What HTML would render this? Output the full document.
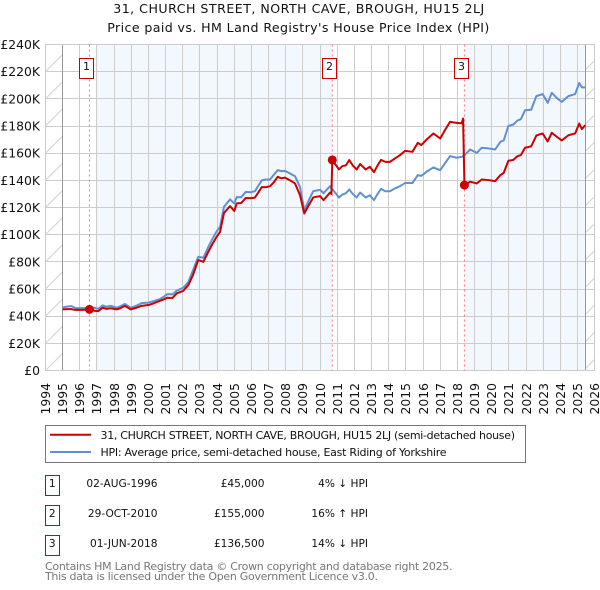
<!DOCTYPE html>
<html lang="en">
<head>
<meta charset="utf-8">
<title>31, CHURCH STREET, NORTH CAVE, BROUGH, HU15 2LJ</title>
<style>
html,body{margin:0;padding:0;background:#fff;width:600px;height:590px;overflow:hidden}
svg{display:block;font-family:"DejaVu Sans",sans-serif}
text{fill:#111}
</style>
</head>
<body>
<svg id="chart" xmlns="http://www.w3.org/2000/svg" width="600" height="590" viewBox="0 0 600 590">
  <defs>
    <pattern id="hatch-left" patternUnits="userSpaceOnUse" width="27.17" height="27.17" patternTransform="translate(8.45,0)">
      <line x1="0" y1="27.17" x2="27.17" y2="0" stroke="#cfcfcf" stroke-width="1"/>
    </pattern>
    <pattern id="hatch-right" patternUnits="userSpaceOnUse" width="27.17" height="27.17" patternTransform="translate(3.05,0)">
      <line x1="0" y1="27.17" x2="27.17" y2="0" stroke="#cfcfcf" stroke-width="1"/>
    </pattern>
  </defs>

  <text x="298.7" y="13" text-anchor="middle" font-size="12.6" textLength="371" lengthAdjust="spacing">31, CHURCH STREET, NORTH CAVE, BROUGH, HU15 2LJ</text>
  <text x="298.3" y="32" text-anchor="middle" font-size="12.6" textLength="382" lengthAdjust="spacing">Price paid vs. HM Land Registry's House Price Index (HPI)</text>

  <rect x="45.5" y="44.5" width="549" height="326" fill="#fff"/>
  <rect x="96.5" y="44.5" width="236" height="326" fill="#f3f7fe"/>
  <rect x="464.5" y="44.5" width="121" height="326" fill="#f3f7fe"/>

  <g id="grid"></g>
  <rect x="45.5" y="44.5" width="17" height="326" fill="url(#hatch-left)"/>
  <rect x="585.5" y="44.5" width="9" height="326" fill="url(#hatch-right)"/>
  <line x1="62.5" y1="44.5" x2="62.5" y2="370.5" stroke="#999" stroke-width="1"/>
  <line x1="585.5" y1="44.5" x2="585.5" y2="370.5" stroke="#999" stroke-width="1"/>
  <rect x="45.5" y="44.5" width="549" height="326" fill="none" stroke="#ccc" stroke-width="1"/>

  <g id="y-ticks"></g>
  <g id="x-ticks"></g>
  <g id="sale-lines"></g>
  <path id="hpi-line" fill="none" stroke="#6090d0" stroke-width="2" stroke-linejoin="round"/>
  <path id="paid-line" fill="none" stroke="#cc0000" stroke-width="2" stroke-linejoin="round"/>
  <g id="sale-marks"></g>

  <g>
    <rect x="45.5" y="425.5" width="480" height="37" fill="#fff" stroke="#777" stroke-width="1"/>
    <line x1="50" y1="434.7" x2="91" y2="434.7" stroke="#cc0000" stroke-width="2"/>
    <text x="100.5" y="439" font-size="11" textLength="414.5" lengthAdjust="spacing">31, CHURCH STREET, NORTH CAVE, BROUGH, HU15 2LJ (semi-detached house)</text>
    <line x1="50" y1="452" x2="91" y2="452" stroke="#6090d0" stroke-width="2"/>
    <text x="100.5" y="456" font-size="11" textLength="346" lengthAdjust="spacing">HPI: Average price, semi-detached house, East Riding of Yorkshire</text>
  </g>

  <g font-size="10.6">
    <g>
      <rect x="45.5" y="475.5" width="14" height="20" fill="#fff" stroke="#cc0000" stroke-width="1"/>
      <text x="52.3" y="487" text-anchor="middle">1</text>
      <text x="157.5" y="487" text-anchor="end">02-AUG-1996</text>
      <text x="264.5" y="487" text-anchor="end">£45,000</text>
      <text x="368" y="487" text-anchor="end">4% ↓ HPI</text>
    </g>
    <g>
      <rect x="45.5" y="505.5" width="14" height="20" fill="#fff" stroke="#cc0000" stroke-width="1"/>
      <text x="52.3" y="517" text-anchor="middle">2</text>
      <text x="157.5" y="517" text-anchor="end">29-OCT-2010</text>
      <text x="264.5" y="517" text-anchor="end">£155,000</text>
      <text x="368" y="517" text-anchor="end">16% ↑ HPI</text>
    </g>
    <g>
      <rect x="45.5" y="535.5" width="14" height="20" fill="#fff" stroke="#cc0000" stroke-width="1"/>
      <text x="52.3" y="547" text-anchor="middle">3</text>
      <text x="157.5" y="547" text-anchor="end">01-JUN-2018</text>
      <text x="264.5" y="547" text-anchor="end">£136,500</text>
      <text x="368" y="547" text-anchor="end">14% ↓ HPI</text>
    </g>
  </g>

  <text x="45" y="570" font-size="11" style="fill:#777" textLength="407.5" lengthAdjust="spacing">Contains HM Land Registry data © Crown copyright and database right 2025.</text>
  <text x="45" y="580" font-size="11" style="fill:#777" textLength="333" lengthAdjust="spacing">This data is licensed under the Open Government Licence v3.0.</text>
</svg>

<script>
const yTickValues = [0,20,40,60,80,100,120,140,160,180,200,220,240];
const yTickLabels = ["£0","£20K","£40K","£60K","£80K","£100K","£120K","£140K","£160K","£180K","£200K","£220K","£240K"];
const xTickYears = [1994,1995,1996,1997,1998,1999,2000,2001,2002,2003,2004,2005,2006,2007,2008,2009,2010,2011,2012,2013,2014,2015,2016,2017,2018,2019,2020,2021,2022,2023,2024,2025,2026];
const dates = [1995.00,1995.25,1995.50,1995.75,1996.00,1996.30,1996.58,1996.88,1997.08,1997.33,1997.55,1997.80,1998.15,1998.35,1998.63,1998.96,1999.25,1999.60,2000.00,2000.33,2000.67,2000.90,2001.10,2001.40,2001.64,2002.03,2002.32,2002.60,2002.90,2003.20,2003.45,2003.69,2003.95,2004.17,2004.40,2004.75,2005.00,2005.14,2005.40,2005.67,2005.95,2006.20,2006.40,2006.60,2006.85,2007.08,2007.30,2007.53,2007.75,2007.95,2008.25,2008.54,2008.83,2009.08,2009.33,2009.60,2010.00,2010.20,2010.58,2010.66,2010.71,2011.10,2011.30,2011.50,2011.70,2011.90,2012.13,2012.33,2012.66,2012.90,2013.14,2013.35,2013.55,2013.80,2014.07,2014.35,2014.65,2014.95,2015.38,2015.69,2015.90,2016.20,2016.60,2017.00,2017.30,2017.57,2017.96,2018.25,2018.33,2018.41,2018.74,2019.13,2019.42,2019.80,2020.20,2020.50,2020.70,2020.97,2021.25,2021.50,2021.70,2021.94,2022.30,2022.60,2022.97,2023.26,2023.50,2023.80,2024.08,2024.47,2024.86,2025.10,2025.25,2025.45];
const hpiValues = [46.4,47.0,47.4,46.0,45.9,46.0,46.4,46.0,45.4,47.9,47.0,47.6,46.2,47.2,49.0,46.2,47.4,49.6,50.0,51.2,52.6,54.4,56.2,56.0,58.7,61.0,65.0,74,83.7,83.0,90,96.0,102,105.8,120.5,126,123,127.6,127.5,131.5,131.2,132,136,140,140.6,140.6,144,147.5,146.8,147,145,143,135,118,125,132,133,130.5,135.7,134,133.6,127.4,129.5,130.5,133.3,130,127.4,131,127.4,129,125.4,130,133.7,132,132,134,135.7,138,138,143.8,143.3,146.3,149.5,147.5,153,157.8,156.6,157.3,157.8,158.5,162.7,160.2,164,163.5,162.7,168.3,169.5,180,181,184,185,191.6,192,202,203.5,197,204.4,200.5,197.8,202,203.5,211.7,208.4,208.4];
const paidValues = [45.0,45.2,45.2,44.6,44.6,44.7,45.0,43.9,43.7,46.2,45.4,45.8,45.0,45.8,47.6,45.0,46.0,47.6,48.2,49.6,51.3,52.4,53.6,53.4,56.7,58.7,62.8,70.5,81.3,80.0,86.5,92.3,98,102,116,121,117.5,123,123.3,127,126.8,127.3,131,135,135,135.7,138.5,142.6,141.5,142,140,137.7,129,115.6,121.5,127.4,128.4,125.4,131,130,155,148,150.5,151,154.9,151,148,152,148,150,146,151,155,153.6,153.6,156,158.5,161.7,161,167.6,166,170,174.5,170.8,177.5,183,182.3,182,185.5,136.5,139,137.7,140.6,140.2,139.4,143.8,145.5,154.4,155,157.8,158.6,164,165,173,174.5,168.6,175,172,169.4,173.2,174.5,181.8,177.7,180.6];
const saleDates = [1996.56,2010.71,2018.41];
const salePrices = [45,155,136.5];
const saleLabels = ["1","2","3"];

const NS = "http://www.w3.org/2000/svg";
function xScale(year){ return 45.5 + (year - 1994) * 17.1625; }
function yScale(k){ return 370.5 - k * (326 / 240); }
function snap(v){ return Math.floor(v) + 0.5; }
function make(tag, attrs){
  const el = document.createElementNS(NS, tag);
  for (const key in attrs) el.setAttribute(key, attrs[key]);
  return el;
}
function linePath(values){
  return values.map(function(v, i){
    return (i ? "L" : "M") + xScale(dates[i]).toFixed(2) + " " + yScale(v).toFixed(2);
  }).join("");
}

const grid = document.getElementById("grid");
const yTicks = document.getElementById("y-ticks");
yTickValues.forEach(function(v, i){
  const y = snap(yScale(v));
  const gl = make("line", {x1: 45.5, x2: 594.5, y1: y, y2: y, stroke: "#ccc", "stroke-width": 1});
  
  
  grid.appendChild(gl);
  const t = make("text", {x: 40, y: yScale(v) + 4.5, "text-anchor": "end", "font-size": 12.4});
  
  
  t.textContent = yTickLabels[i];
  yTicks.appendChild(t);
});

const xTicks = document.getElementById("x-ticks");
xTickYears.forEach(function(year){
  const x = snap(xScale(year));
  const gl = make("line", {x1: x, x2: x, y1: 44.5, y2: 370.5, stroke: "#ccc", "stroke-width": 1});
  
  
  grid.appendChild(gl);
  const t = make("text", {transform: "translate(" + (x + 4.5) + ",383) rotate(-90)", "text-anchor": "end", "font-size": 12.4});
  
  
  t.textContent = year;
  xTicks.appendChild(t);
});

document.getElementById("hpi-line").setAttribute("d", linePath(hpiValues));
document.getElementById("paid-line").setAttribute("d", linePath(paidValues));

const saleLines = document.getElementById("sale-lines");
const saleMarks = document.getElementById("sale-marks");
saleDates.forEach(function(d, i){
  const x = xScale(d);
  const dl = make("line", {x1: x, x2: x, y1: 44.5, y2: 370.5, stroke: "#f77", "stroke-width": 1, "stroke-dasharray": "2 3"});
  
  
  saleLines.appendChild(dl);
  const dot = make("circle", {cx: x, cy: yScale(salePrices[i]), r: 4.5, fill: "#cc0000"});
  
  
  saleMarks.appendChild(dot);
  const bx = Math.round(x - 10) + 0.5;
  const box = make("rect", {x: bx, y: 58.5, width: 14, height: 20, fill: "#fff", stroke: "#cc0000", "stroke-width": 1});
  
  
  saleMarks.appendChild(box);
  const num = make("text", {x: bx + 7, y: 70, "text-anchor": "middle", "font-size": 11});
  
  
  num.textContent = saleLabels[i];
  saleMarks.appendChild(num);
});
</script>
</body>
</html>
